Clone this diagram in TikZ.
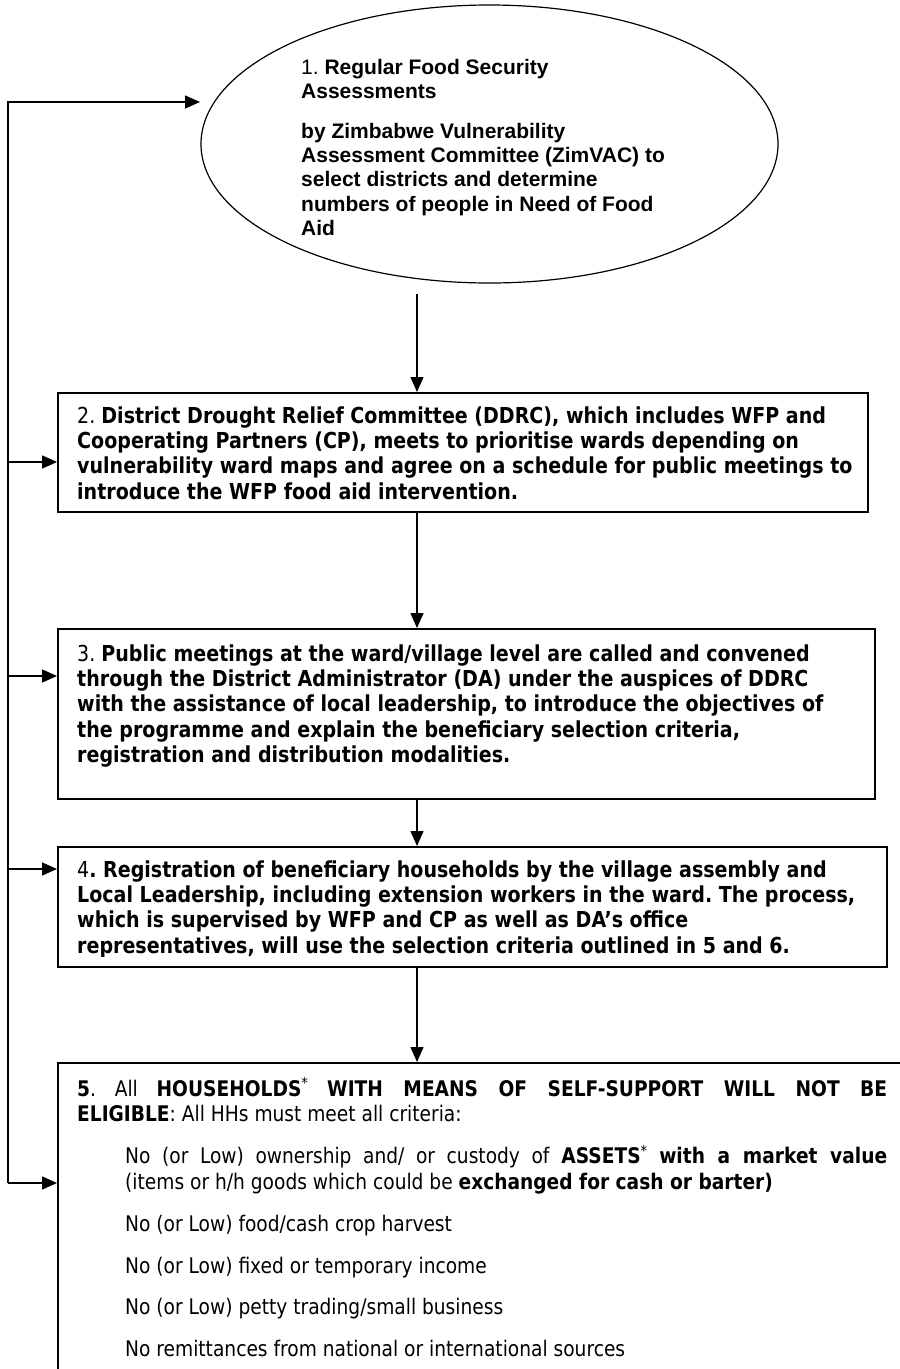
\documentclass[tikz,border=0pt]{standalone}
\usepackage{fontspec}
\usepackage{xcolor}
\usepackage{tikz}
\usetikzlibrary{arrows.meta,shapes.geometric}
\setmainfont{Liberation Sans}
\newfontfamily\tahomalike[FakeStretch=0.866]{DejaVu Sans}
\definecolor{flowblack}{HTML}{000000}
\frenchspacing
\tikzset{every node/.append style={font=\rmfamily}}

\begin{document}
\begin{tikzpicture}[>={Triangle[length=15pt,width=13pt]},x=1pt,y=-1pt,
    stepbox/.style={draw=flowblack,line width=1.6pt,anchor=north west,inner sep=0pt},
    flow/.style={->,draw=flowblack,line width=1.4pt},
    boxtext/.style={anchor=north west,inner sep=0pt,align=left,text=flowblack,
      font=\tahomalike\fontsize{22}{25.3}\selectfont},
    listtext/.style={boxtext,font=\tahomalike\fontsize{21.5}{25.5}\selectfont}]
  \clip (0,0) rectangle (900,1369);
  \node[draw=flowblack,line width=1.2pt,ellipse,minimum width=577pt,minimum height=278pt,inner sep=0pt] (assess) at (489.5,144) {};
  \node[anchor=north west,inner sep=0pt,align=left,font=\fontsize{21}{24.2}\selectfont] (assesstext) at (301,57)
    {\strut 1. \textbf{Regular Food Security}\\ \textbf{Assessments}\\[16pt]
     \textbf{by Zimbabwe Vulnerability}\\ \textbf{Assessment Committee (ZimVAC) to}\\
     \textbf{select districts and determine}\\ \textbf{numbers of people in Need of Food}\\ \textbf{Aid}};

  \node[stepbox,minimum width=810pt,minimum height=119pt] (ddrc) at (57,392) {};
  \node[boxtext] (ddrctext) at (77,405.3)
    {\strut 2. \textbf{District Drought Relief Committee (DDRC), which includes WFP and}\\
     \textbf{Cooperating Partners (CP), meets to prioritise wards depending on}\\
     \textbf{vulnerability ward maps and agree on a schedule for public meetings to}\\
     \textbf{introduce the WFP food aid intervention.}};

  \node[stepbox,minimum width=817pt,minimum height=170pt] (meeting) at (57,628) {};
  \node[boxtext] (meetingtext) at (77,643.3)
    {\strut 3. \textbf{Public meetings at the ward/village level are called and convened}\\
     \textbf{through the District Administrator (DA) under the auspices of DDRC}\\
     \textbf{with the assistance of local leadership, to introduce the objectives of}\\
     \textbf{the programme and explain the beneficiary selection criteria,}\\
     \textbf{registration and distribution modalities.}};

  \node[stepbox,minimum width=829pt,minimum height=120pt] (register) at (57,846) {};
  \begin{scope}
    \clip (57,846) rectangle (886,956);
    \node[boxtext] (registertext) at (77,859.3)
      {\strut 4\textbf{. Registration of beneficiary households by the village assembly and}\\
       \textbf{Local Leadership, including extension workers in the ward. The process,}\\
       \textbf{which is supervised by WFP and CP as well as DA’s office}\\
       \textbf{representatives, will use the selection criteria outlined in 5 and 6.}};
  \end{scope}

  \node[stepbox,minimum width=848pt,minimum height=318pt] (eligible) at (57,1062) {};
  \node[listtext] (eligibletext) at (77,1077.2)
    {\strut\makebox[810pt][s]{\textbf{5}. All \textbf{HOUSEHOLDS}\textsuperscript{*} \textbf{WITH MEANS OF SELF-SUPPORT WILL NOT BE}}\\
     \textbf{ELIGIBLE}: All HHs must meet all criteria:\\[16.5pt]
     \hspace*{48pt}\makebox[762pt][s]{No (or Low) ownership and/ or custody of \textbf{ASSETS}\textsuperscript{*} \textbf{with a market value}}\\
     \hspace*{48pt}(items or h/h goods which could be \textbf{exchanged for cash or barter)}\\[16.5pt]
     \hspace*{48pt}No (or Low) food/cash crop harvest\\[16.5pt]
     \hspace*{48pt}No (or Low) fixed or temporary income\\[16pt]
     \hspace*{48pt}No (or Low) petty trading/small business\\[16pt]
     \hspace*{48pt}No remittances from national or international sources};

  \coordinate (spine) at (417,0);
  \coordinate (loopTop) at (8,102);
  \coordinate (loopBot) at (8,1183);
  \coordinate (assessIn) at (200,102);
  \coordinate (tapDdrc) at (8,462);
  \coordinate (tapMeeting) at (8,676);
  \coordinate (tapRegister) at (8,869);

  \draw[flow] ([yshift=-10pt]assess.south -| spine) -- (ddrc.north -| spine);
  \draw[flow] (ddrc.south -| spine) -- (meeting.north -| spine);
  \draw[flow] (meeting.south -| spine) -- (register.north -| spine);
  \draw[flow] (register.south -| spine) -- (eligible.north -| spine);

  \draw[flow] (loopBot) -- (loopTop) -- (assessIn);
  \draw[flow] (loopBot) -- (loopBot -| eligible.west);
  \draw[flow] (tapDdrc) -- (tapDdrc -| ddrc.west);
  \draw[flow] (tapMeeting) -- (tapMeeting -| meeting.west);
  \draw[flow] (tapRegister) -- (tapRegister -| register.west);
\end{tikzpicture}
\end{document}
